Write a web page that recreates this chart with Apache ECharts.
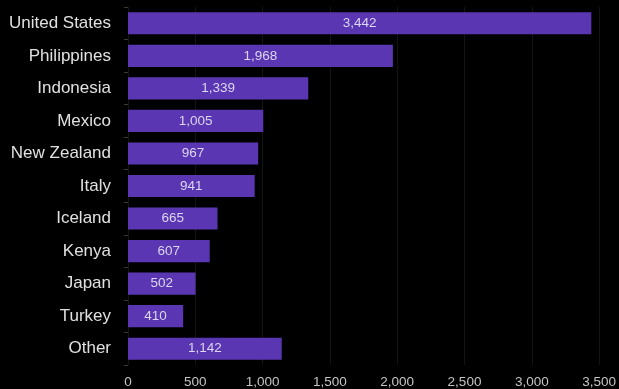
<!DOCTYPE html>
<html><head><meta charset="utf-8">
<style>html,body{margin:0;padding:0;background:#000;}#c{width:619px;height:389px;}</style>
<script src="https://cdn.jsdelivr.net/npm/echarts@6/dist/echarts.min.js"></script>
</head><body><div id="c"></div>
<script>
const categories = ["United States","Philippines","Indonesia","Mexico","New Zealand","Italy","Iceland","Kenya","Japan","Turkey","Other"];
const values = [3442,1968,1339,1005,967,941,665,607,502,410,1142];
const xTicks = [0,500,1000,1500,2000,2500,3000,3500];

const chart = echarts.init(document.getElementById('c'), null, {renderer:'canvas'});
chart.setOption({
  backgroundColor:'#000',
  animation:false,
  grid:{left:128,right:17,top:7,bottom:23,containLabel:false},
  xAxis:{type:'value',min:xTicks[0],max:xTicks[xTicks.length-1],interval:500,
    axisLine:{show:false},axisTick:{show:false},
    splitLine:{show:true,lineStyle:{color:'#141414',width:1}},
    axisLabel:{color:'#c4c4c4',fontSize:13.5,fontFamily:'Liberation Sans',margin:10,
      formatter:v=>v.toLocaleString('en-US')}},
  yAxis:{type:'category',data:categories,inverse:true,
    axisLine:{show:false},
    axisTick:{show:true,length:4,lineStyle:{color:'#3a3a30'}},
    axisLabel:{color:'#e0e0e0',fontSize:17,fontFamily:'Liberation Sans',margin:17}},
  series:[{type:'bar',data:values,barCategoryGap:'32%',
    itemStyle:{color:'#5a36b3'},
    label:{show:true,position:'inside',color:'#dcd6ee',fontSize:13.5,fontFamily:'Liberation Sans',
      formatter:p=>p.value.toLocaleString('en-US')}}]
});
</script></body></html>
